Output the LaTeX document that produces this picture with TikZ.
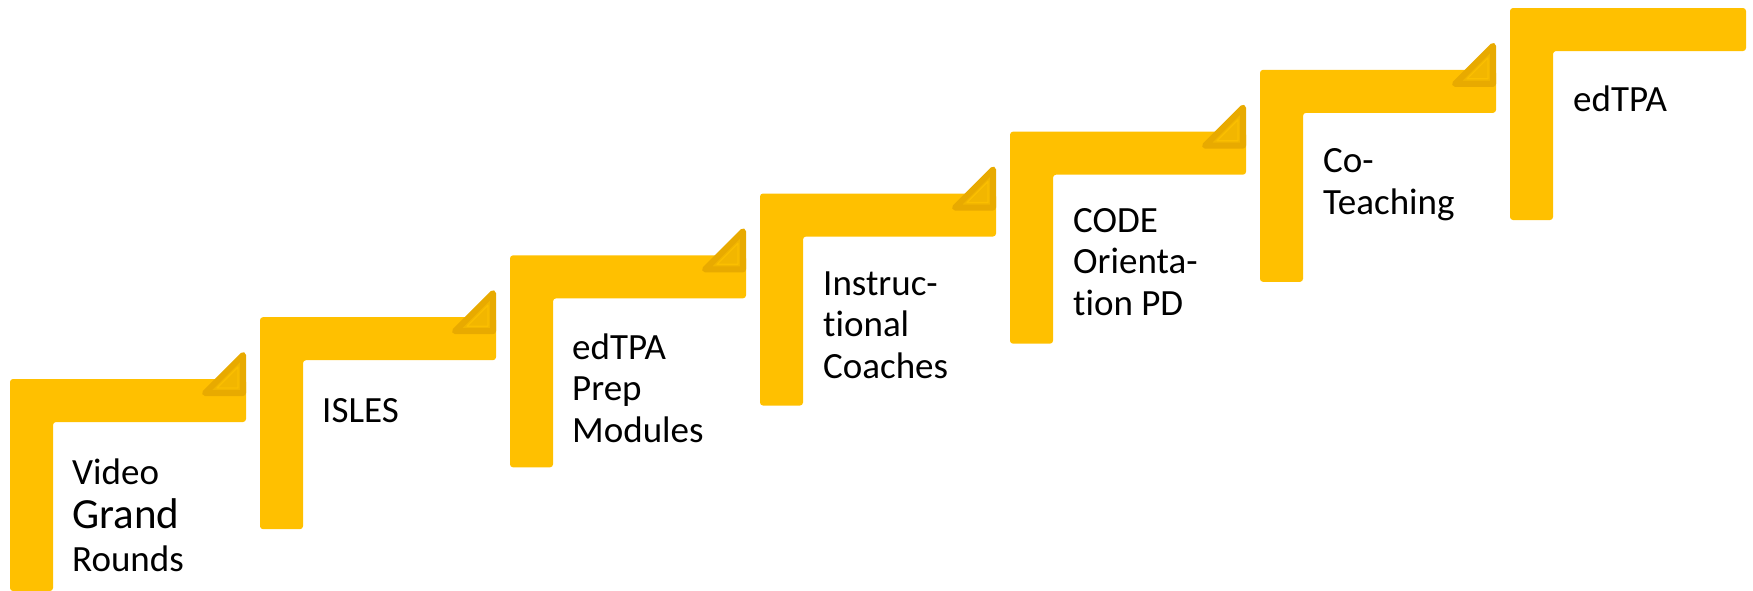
\documentclass[tikz,border=0pt]{standalone}
\usepackage{fontspec}
\setmainfont{Carlito}[Ligatures=NoCommon]
\definecolor{gold}{HTML}{FFC000}
\definecolor{goldedge}{HTML}{E8AA00}
\definecolor{goldin}{HTML}{F2B600}
\definecolor{goldline}{HTML}{FBBF00}
\begin{document}
\begin{tikzpicture}[x=1pt,y=-1pt,
  lbl/.style={anchor=base west, inner sep=0pt, align=left, text=black,
              font=\fontsize{37}{41.5}\selectfont},
  stepbar/.style={fill=gold, rounded corners=3pt},
  tri/.style={draw=goldedge, fill=goldin, line width=6pt, line join=round},
  triline/.style={draw=goldline, line width=1.2pt, line join=round}]
\useasboundingbox (0,0) rectangle (1753,591);
\foreach \i in {0,...,6}{
  \pgfmathsetmacro\L{10+250*\i}
  \pgfmathsetmacro\T{379-61.83*\i}
  \pgfmathsetmacro\R{\L+236}
  \pgfmathsetmacro\B{\T+212}
  \path[stepbar] (\L,\B) -- (\L,\T) -- (\R,\T) -- (\R,\T+43) -- (\L+43,\T+43) -- (\L+43,\B) -- cycle;
  \ifnum\i<6
    \path[tri] (\R-3,\T-24) -- (\R-3,\T+14) -- (\R-41,\T+14) -- cycle;
    \path[triline] (\R-8,\T-12) -- (\R-8,\T+9) -- (\R-29,\T+9) -- cycle;
  \fi
}
% anchors are at the baseline of the last line of each label
\node[lbl] (s1) at (72,571) {Video\\[2.5pt]{\fontsize{43}{48}\selectfont Grand}\\[1.5pt]Rounds};
\node[lbl] (s2) at (322,422) {ISLES};
\node[lbl] (s3) at (572,442) {edTPA\\Prep\\Modules};
\node[lbl] (s4) at (823,378) {Instruc-\\tional\\Coaches};
\node[lbl] (s5) at (1073,315) {CODE\\Orienta-\\tion PD};
\node[lbl] (s6) at (1323,214) {Co-\\Teaching};
\node[lbl] (s7) at (1573,112) {edTPA};
\end{tikzpicture}
\end{document}
